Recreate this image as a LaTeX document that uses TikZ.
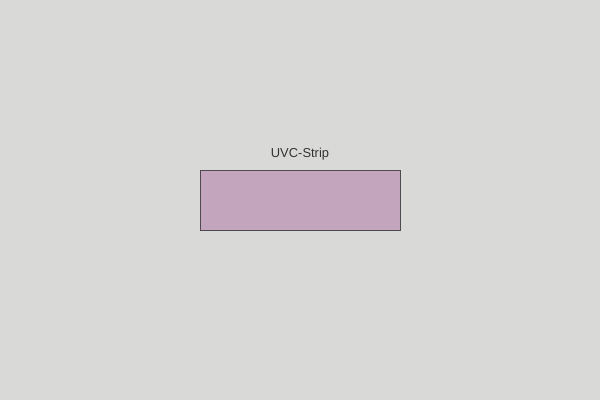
\documentclass[tikz,border=0pt]{standalone}
\usepackage{fontspec}
\setmainfont{Liberation Sans}
\usetikzlibrary{positioning}
\definecolor{paper}{HTML}{D9D9D8}
\definecolor{mauve}{HTML}{C4A5BE}
\definecolor{edge}{HTML}{4E4A50}
\definecolor{labelink}{HTML}{333333}

\begin{document}
\begin{tikzpicture}[font=\fontsize{9.2}{11}\selectfont]
  % Canvas, fixes the margins.
  \fill[paper] (0,0) rectangle (15,10);
  \useasboundingbox (0,0) rectangle (15,10);

  % The strip and its label.
  \node[draw=edge,fill=mauve,line width=0.6pt,minimum width=5cm,minimum height=1.5cm,
        inner sep=0pt] (strip) at (7.5,5) {};
  \node[labelink,above=0.12cm of strip] (striplabel) {UVC-Strip};
\end{tikzpicture}
\end{document}
